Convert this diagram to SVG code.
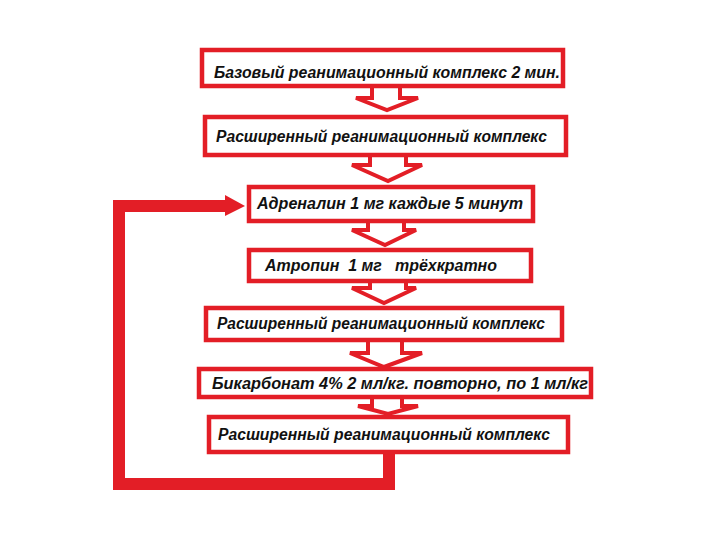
<svg xmlns="http://www.w3.org/2000/svg" width="720" height="540" viewBox="0 0 720 540">
<style>
.box{fill:#fff;stroke:#e31e26;stroke-width:4.5}
.t{font-family:"Liberation Sans",Arial,sans-serif;font-weight:bold;font-style:italic;font-size:16px;fill:#111}
.arr{fill:#fff;stroke:#e31e26;stroke-width:4;stroke-linejoin:miter}
.loop{fill:none;stroke:#e31e26;stroke-width:12;stroke-linejoin:miter}
.head{fill:#e31e26}
</style>
<rect width="720" height="540" fill="#fff"/>
<g id="connectors">
<polygon class="arr" points="372,86 400,86 400,98 418,98 387,110 356,98 372,98"/>
<polygon class="arr" points="370,155 406,155 406,165 422,165 388,181 352,165 370,165"/>
<polygon class="arr" points="368,221 404,221 404,230 416,230 385,245 352,230 368,230"/>
<polygon class="arr" points="370,281 406,281 406,288 416,288 384,303 352,288 370,288"/>
<polygon class="arr" points="368,340 402,340 402,353 422,353 384,367 350,353 368,353"/>
<polygon class="arr" points="372,396 402,396 402,406 418,406 388,414 358,406 372,406"/>
<polyline class="loop" points="389,452 389,484 119,484 119,206 228,206"/>
<polygon class="head" points="225,195 245,206 225,216"/>
</g>
<g id="n1"><rect class="box" x="202" y="50" width="361" height="36"/><text class="t" x="214" y="78" textLength="346" lengthAdjust="spacingAndGlyphs">Базовый реанимационный комплекс 2 мин.</text></g>
<g id="n2"><rect class="box" x="205" y="117" width="361" height="38"/><text class="t" x="216" y="142" textLength="331" lengthAdjust="spacingAndGlyphs">Расширенный реанимационный комплекс</text></g>
<g id="n3"><rect class="box" x="249" y="187" width="284" height="34"/><text class="t" x="257" y="209" textLength="266" lengthAdjust="spacingAndGlyphs">Адреналин 1 мг каждые 5 минут</text></g>
<g id="n4"><rect class="box" x="249" y="250" width="282" height="31"/><text class="t" x="265" y="271" textLength="232" lengthAdjust="spacingAndGlyphs" xml:space="preserve">Атропин  1 мг   трёхкратно</text></g>
<g id="n5"><rect class="box" x="206" y="308" width="356" height="32"/><text class="t" x="217" y="329" textLength="328" lengthAdjust="spacingAndGlyphs">Расширенный реанимационный комплекс</text></g>
<g id="n6"><rect class="box" x="199" y="369" width="392" height="28"/><text class="t" x="212" y="389" textLength="376" lengthAdjust="spacingAndGlyphs">Бикарбонат 4% 2 мл/кг. повторно, по 1 мл/кг</text></g>
<g id="n7"><rect class="box" x="209" y="417" width="359" height="35"/><text class="t" x="218" y="440" textLength="332" lengthAdjust="spacingAndGlyphs">Расширенный реанимационный комплекс</text></g>
</svg>
